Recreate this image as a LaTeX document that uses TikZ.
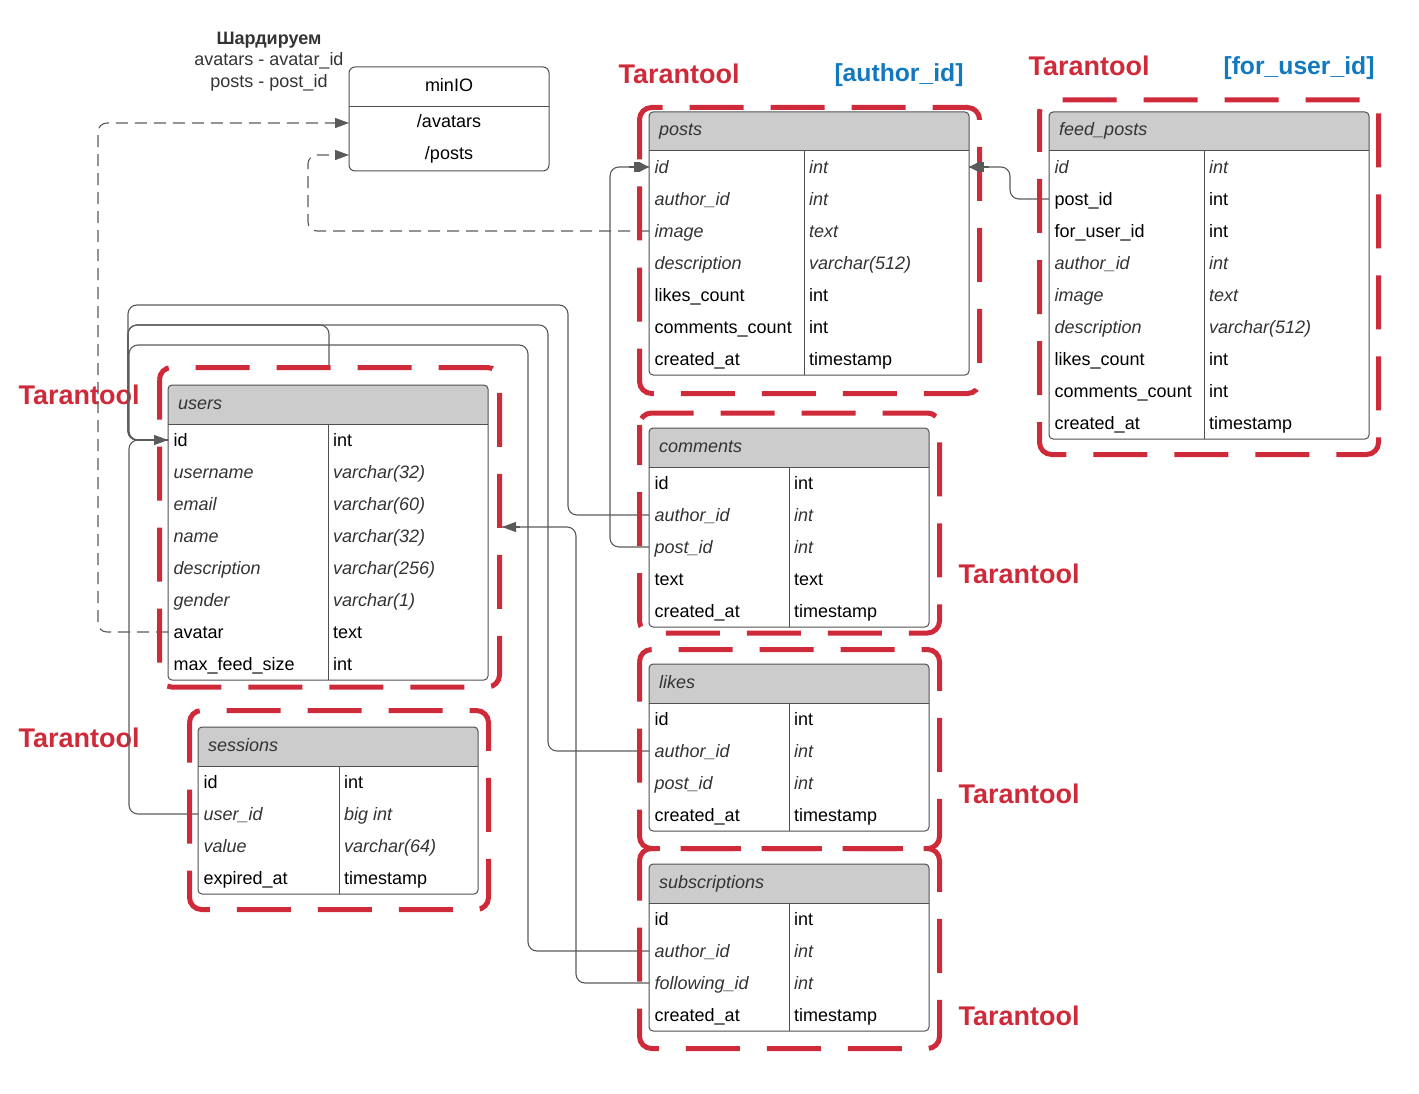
\documentclass[tikz,border=0pt]{standalone}
\usepackage{fontspec}
\setmainfont{Liberation Sans}
\usetikzlibrary{arrows.meta,calc}
\definecolor{tred}{RGB}{206,42,58}
\definecolor{tblue}{RGB}{18,121,191}
\definecolor{hdr}{RGB}{204,204,204}
\definecolor{itcol}{RGB}{51,51,51}
\definecolor{tline}{RGB}{80,80,80}
\definecolor{cline}{RGB}{90,90,90}
\newcommand\fs{\fontsize{18}{22}\selectfont}
% #1 name, #2 left x, #3 top y, #4 width, #5 first column width, #6 rows, #7 title, #8 rows list
\newcommand\dbtable[8]{%
  \begin{scope}
    \clip[rounded corners=4] (#2,#3) rectangle ++(#4,{39+32*#6});
    \fill[hdr] (#2,#3) rectangle ++(#4,39);
  \end{scope}
  \draw[tabline, rounded corners=4] (#2,#3) rectangle ++(#4,{39+32*#6});
  \draw[tabline] (#2,{#3+39}) -- ++(#4,0);
  \draw[tabline] ({#2+#5},{#3+39}) -- ++(0,{32*#6});
  \node[hdrtext] (#1-h) at ({#2+6},{#3+24}) {#7};
  \foreach \sa/\ta/\sb/\tb [count=\rr] in {#8} {
    \coordinate (#1-\rr-w) at (#2,{#3+55+32*(\rr-1)});
    \coordinate (#1-\rr-e) at ({#2+#4},{#3+55+32*(\rr-1)});
    \node[cell,\sa] (#1-\rr-a) at ({#2+1.5},{#3+61.5+32*(\rr-1)}) {\ta};
    \node[cell,\sb] (#1-\rr-b) at ({#2+#5+1},{#3+61.5+32*(\rr-1)}) {\tb};
  }%
}
\begin{document}
\begin{tikzpicture}[x=1pt,y=-1pt,
  tabline/.style={draw=tline, line width=1pt},
  hdrtext/.style={anchor=base west, inner sep=4pt, font=\fs\itshape, text=itcol},
  cell/.style={anchor=base west, inner sep=4pt},
  upx/.style={font=\fs, text=black},
  itx/.style={font=\fs\itshape, text=itcol},
  conn/.style={draw=cline, line width=1.1pt, rounded corners=9},
  dconn/.style={conn, dash pattern=on 12pt off 7pt},
  tip/.style={-{Triangle[length=14pt,width=10pt]}},
  ptip/.style={-{Square[length=6pt,width=10pt]Triangle[length=9pt,width=9pt]}},
  redbox/.style={draw=tred, line width=5pt, rounded corners=12, dash pattern=on 54pt off 27pt, dash phase=14pt},
  tlabel/.style={text=tred, font=\fontsize{27}{31}\selectfont\bfseries},
  blabel/.style={text=tblue, font=\fontsize{24.7}{29}\selectfont\bfseries},
  note/.style={anchor=base, inner sep=1pt, font=\fs, text=itcol}
]
\useasboundingbox (0,0) rectangle (1419,1094);

% labels
\node[tlabel] (lt1) at (679,74) {Tarantool};
\node[blabel] (lb1) at (899,75) {[author\_id]};
\node[tlabel] (lt2) at (1089,66) {Tarantool};
\node[blabel] (lb2) at (1299,68) {[for\_user\_id]};
\node[tlabel] (lt3) at (79,395) {Tarantool};
\node[tlabel] (lt4) at (79,738) {Tarantool};
\node[tlabel] (lt5) at (1019,574) {Tarantool};
\node[tlabel] (lt6) at (1019,794) {Tarantool};
\node[tlabel] (lt7) at (1019,1016) {Tarantool};

\node[note, font=\fs\bfseries] (n1) at (269,44.5) {Шардируем};
\node[note] (n2) at (269,65.5) {avatars - avatar\_id};
\node[note] (n3) at (269,87.5) {posts - post\_id};

% minIO
\draw[tabline, rounded corners=6] (349,67) rectangle (549,171);
\draw[tabline] (349,107) -- (549,107);
\node[note, text=black] (minio) at (449,91.5) {minIO};
\node[note, text=black] (minioAt) at (449,127.5) {/avatars};
\node[note, text=black] (minioPt) at (449,159.5) {/posts};
\coordinate (minioA) at (349,123);
\coordinate (minioP) at (349,155);

% tables
\dbtable{posts}{649}{112}{320}{155}{7}{posts}{itx/id/itx/int, itx/author\_id/itx/int, itx/image/itx/text, itx/description/itx/varchar(512), upx/likes\_count/upx/int, upx/comments\_count/upx/int, upx/created\_at/upx/timestamp}
\dbtable{feed}{1049}{112}{320}{155}{9}{feed\_posts}{itx/id/itx/int, upx/post\_id/upx/int, upx/for\_user\_id/upx/int, itx/author\_id/itx/int, itx/image/itx/text, itx/description/itx/varchar(512), upx/likes\_count/upx/int, upx/comments\_count/upx/int, upx/created\_at/upx/timestamp}
\dbtable{users}{168}{385}{320}{160}{8}{users}{upx/id/upx/int, itx/username/itx/varchar(32), itx/email/itx/varchar(60), itx/name/itx/varchar(32), itx/description/itx/varchar(256), itx/gender/itx/varchar(1), upx/avatar/upx/text, upx/max\_feed\_size/upx/int}
\dbtable{sessions}{198}{727}{280}{141}{4}{sessions}{upx/id/upx/int, itx/user\_id/itx/big int, itx/value/itx/varchar(64), upx/expired\_at/upx/timestamp}
\dbtable{comments}{649}{428}{280}{140}{5}{comments}{upx/id/upx/int, itx/author\_id/itx/int, itx/post\_id/itx/int, upx/text/upx/text, upx/created\_at/upx/timestamp}
\dbtable{likes}{649}{664}{280}{140}{4}{likes}{upx/id/upx/int, itx/author\_id/itx/int, itx/post\_id/itx/int, upx/created\_at/upx/timestamp}
\dbtable{subscriptions}{649}{864}{280}{140}{4}{subscriptions}{upx/id/upx/int, itx/author\_id/itx/int, itx/following\_id/itx/int, upx/created\_at/upx/timestamp}

\coordinate (usersTop) at (329,367);
\coordinate (usersR) at (502,527);

% connectors
\draw[conn] (comments-2-w) -| (568,305) -| (128,440) -- (users-1-w);
\draw[conn] (likes-2-w) -| (548,325) -| (128,440) -- (users-1-w);
\draw[conn] (subscriptions-2-w) -| (528,345) -| (129,440) -- (users-1-w);
\draw[conn] (usersTop) |- (128,325) |- (users-1-w);
\draw[conn] (sessions-2-w) -| (129,440) -- (users-1-w);
\draw[conn] (subscriptions-3-w) -| (576,527) -- (usersR);
\draw[conn] (comments-3-w) -| (610,167) -- (posts-1-w);
\draw[conn] (feed-2-w) -| (1010,167) -- (posts-1-e);
\draw[dconn, tip] (users-7-w) -| (98,123) -- (minioA);
\draw[dconn, tip] (posts-3-w) -| (308,155) -- (minioP);

% red containers
\draw[redbox] (639.5,107.5) rectangle (979.5,393.5);
\draw[redbox] (1039.5,100) rectangle (1378.5,454.5);
\draw[redbox] (159.5,367.5) rectangle (499.5,687);
\draw[redbox] (189.5,710.5) rectangle (488.5,909.5);
\draw[redbox] (639.5,413) rectangle (939.5,633);
\draw[redbox] (639.5,649.5) rectangle (939.5,848.5);
\draw[redbox] (639.5,848.5) rectangle (939.5,1048.5);

% arrow heads on top
\draw[conn, tip] ($(users-1-w)+(-18,0)$) -- (users-1-w);
\draw[conn, tip] ($(usersR)+(18,0)$) -- (usersR);
\draw[conn, ptip] ($(posts-1-w)+(-20,0)$) -- (posts-1-w);
\draw[conn, ptip] ($(posts-1-e)+(20,0)$) -- (posts-1-e);
\end{tikzpicture}
\end{document}
